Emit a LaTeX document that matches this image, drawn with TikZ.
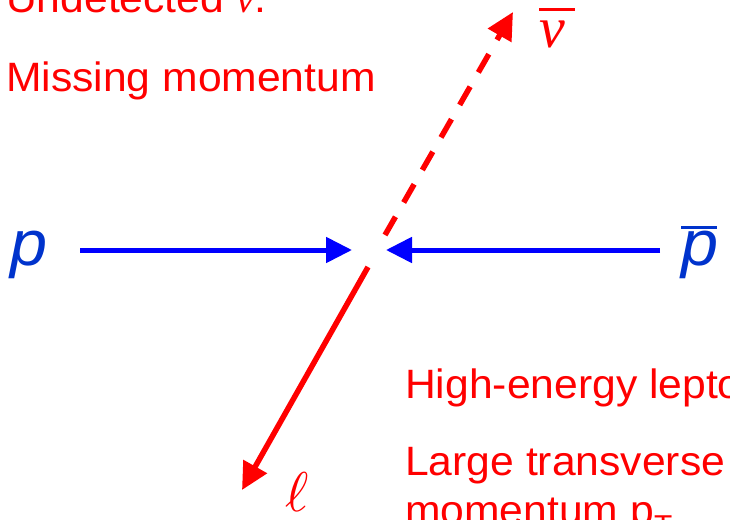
\documentclass[tikz,border=0pt]{standalone}
\usepackage{fontspec}
\setmainfont{Liberation Sans}[FakeStretch=1.04]
\newfontfamily\timesf{Liberation Serif}
\newfontfamily\lmm{latinmodern-math.otf}
\usetikzlibrary{arrows.meta}
\definecolor{pblue}{RGB}{0,51,204}
\definecolor{ared}{RGB}{255,0,0}
\definecolor{ablue}{RGB}{0,0,255}
\begin{document}
\begin{tikzpicture}[x=1pt,y=-1pt,
  lbl/.style={text=ared, font=\fontsize{41}{48}\selectfont, anchor=base west, inner sep=0pt},
  particle/.style={text=pblue, font=\fontsize{64}{70}\selectfont\itshape, anchor=base west, inner sep=0pt},
  beam/.style={draw=ablue, line width=5pt, -{Triangle[length=26pt,width=25pt]}},
  lepton/.style={draw=ared, line width=5.5pt, -{Triangle[length=27pt,width=26pt]}},
  neutrino/.style={draw=ared, line width=5.5pt, dash pattern=on 21pt off 16.5pt, -{Triangle[length=27pt,width=26pt]}}
]
\useasboundingbox (0,0) rectangle (730,519);
\clip (0,0) rectangle (730,519);

% labels
\node[lbl] (und) at (6,13) {Undetected {\timesf\itshape ν}.};
\node[lbl] (miss) at (6,91) {Missing momentum};
\node[lbl] (high) at (405,398) {High-energy lepton};
\node[lbl] (large) at (405,475) {Large transverse};
\node[lbl] (mom) at (405,524) {momentum p\textsubscript{T}};

% particles
\node[particle] (p) at (10,265) {p};
\node[particle] (pbar) at (681,265) {\makebox[0pt][l]{\raisebox{36.5pt}{\color{pblue}\rule{36pt}{3pt}}}p};
\node[anchor=base west, inner sep=0pt, text=ared, font=\fontsize{58}{64}\selectfont\timesf\itshape] (nubar) at (539,48)
  {\makebox[0pt][l]{\raisebox{36.5pt}{\color{ared}\rule{36pt}{3pt}}}ν};
\node[anchor=base west, inner sep=0pt, text=ared, font=\fontsize{56}{60}\selectfont\lmm] (ell) at (285,511) {ℓ};

% connector end points
\coordinate (pstart) at (80,250);
\coordinate (ptip) at (352,250);
\coordinate (pbstart) at (660,250);
\coordinate (pbtip) at (386,250);
\coordinate (nustart) at (385,235);
\coordinate (nutip) at (513,12);
\coordinate (lstart) at (368,267);
\coordinate (ltip) at (242,490);

\draw[beam] (pstart) -- (ptip);
\draw[beam] (pbstart) -- (pbtip);
\draw[neutrino] (nustart) -- (nutip);
\draw[lepton] (lstart) -- (ltip);
\end{tikzpicture}
\end{document}
